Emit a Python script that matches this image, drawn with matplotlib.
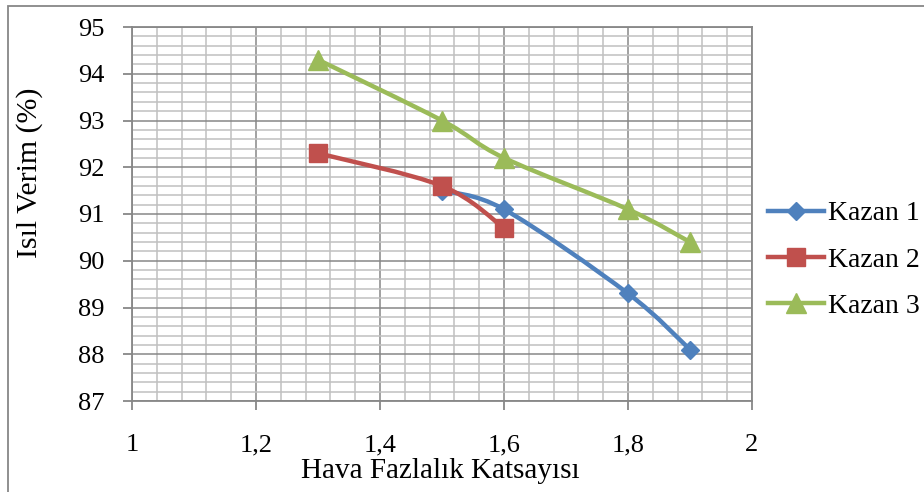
import numpy as np
import matplotlib
matplotlib.use('Agg')
import matplotlib.pyplot as plt
from matplotlib.path import Path
from matplotlib.patches import PathPatch, Rectangle
from matplotlib.ticker import MultipleLocator, FuncFormatter
from matplotlib.lines import Line2D

# boiler efficiency vs excess air coefficient
x_k1 = [1.5, 1.6, 1.8, 1.9]
y_k1 = [91.5, 91.1, 89.3, 88.1]
x_k2 = [1.3, 1.5, 1.6]
y_k2 = [92.3, 91.6, 90.7]
x_k3 = [1.3, 1.5, 1.6, 1.8, 1.9]
y_k3 = [94.3, 93.0, 92.2, 91.1, 90.4]
names = ['Kazan 1', 'Kazan 2', 'Kazan 3']

colors = ['#4F81BD', '#C0504D', '#9BBB59']
markers = ['D', 's', '^']
msizes = [9.5, 13.5, 14]

plt.rcParams['font.family'] = ['Liberation Serif', 'DejaVu Serif']


def smooth_path(xs, ys):
    # bezier segments through the points (spreadsheet-style smoothed line)
    p = np.column_stack([xs, ys]).astype(float)
    n = len(p)
    verts = [p[0]]
    codes = [Path.MOVETO]
    for i in range(n - 1):
        p_prev = p[i - 1] if i > 0 else p[i]
        p_next2 = p[i + 2] if i + 2 < n else p[i + 1]
        c1 = p[i] + (p[i + 1] - p_prev) / 6.0
        c2 = p[i + 1] - (p_next2 - p[i]) / 6.0
        verts += [c1, c2, p[i + 1]]
        codes += [Path.CURVE4] * 3
    return Path(verts, codes)


fig = plt.figure(figsize=(9.24, 4.92), dpi=100)
ax = fig.add_axes([132 / 924, 1 - 401 / 492, 620 / 924, 374 / 492])

series = [(x_k1, y_k1), (x_k2, y_k2), (x_k3, y_k3)]
for (xs, ys), c, m, ms in zip(series, colors, markers, msizes):
    ax.add_patch(PathPatch(smooth_path(xs, ys), facecolor='none', edgecolor=c,
                           lw=3.2, capstyle='round', joinstyle='round', zorder=3))
    ax.plot(xs, ys, ls='none', marker=m, ms=ms, color=c, mec=c, zorder=4)

ax.set_xlim(1, 2)
ax.set_ylim(87, 95)
ax.xaxis.set_major_locator(MultipleLocator(0.2))
ax.xaxis.set_minor_locator(MultipleLocator(0.04))
ax.yaxis.set_major_locator(MultipleLocator(1))
ax.yaxis.set_minor_locator(MultipleLocator(0.2))
ax.xaxis.set_major_formatter(FuncFormatter(lambda v, p: f'{v:g}'.replace('.', ',')))

ax.grid(which='major', color='#878787', lw=1.1, zorder=1)
ax.grid(which='minor', color='#C0C0C0', lw=1.1, zorder=0)
ax.set_axisbelow(True)
for s in ax.spines.values():
    s.set_color('#878787')
    s.set_linewidth(1.3)

ax.tick_params(which='major', direction='out', length=6.5, width=1.3, color='#878787',
               labelsize=19)
ax.tick_params(axis='y', pad=13.5)
ax.tick_params(axis='x', pad=17.5)
ax.tick_params(which='minor', length=0)

ax.set_xlabel('Hava Fazlalık Katsayısı', fontsize=21)
ax.set_ylabel('Isıl Verim (%)', fontsize=21.5)
ax.xaxis.set_label_coords(0.497, -0.152)
ax.yaxis.set_label_coords(-0.144, 0.61)

handles = [Line2D([], [], color=c, lw=3.2, marker=m, ms=ms, mec=c)
           for c, m, ms in zip(colors, markers, msizes)]
fig.legend(handles, names, loc='center left', bbox_to_anchor=(768 / 924, 1 - 260 / 492),
           frameon=False, fontsize=20, handlelength=2.0, handletextpad=0.15,
           labelspacing=0.75, borderpad=0, borderaxespad=0)

# chart area frame
fig.patches.append(Rectangle((8 / 924, -0.1), 1.2, 1 - 6 / 492 + 0.1,
                             transform=fig.transFigure, fill=False,
                             edgecolor='#878787', lw=1.3))

fig.savefig('out.png', dpi=100)
